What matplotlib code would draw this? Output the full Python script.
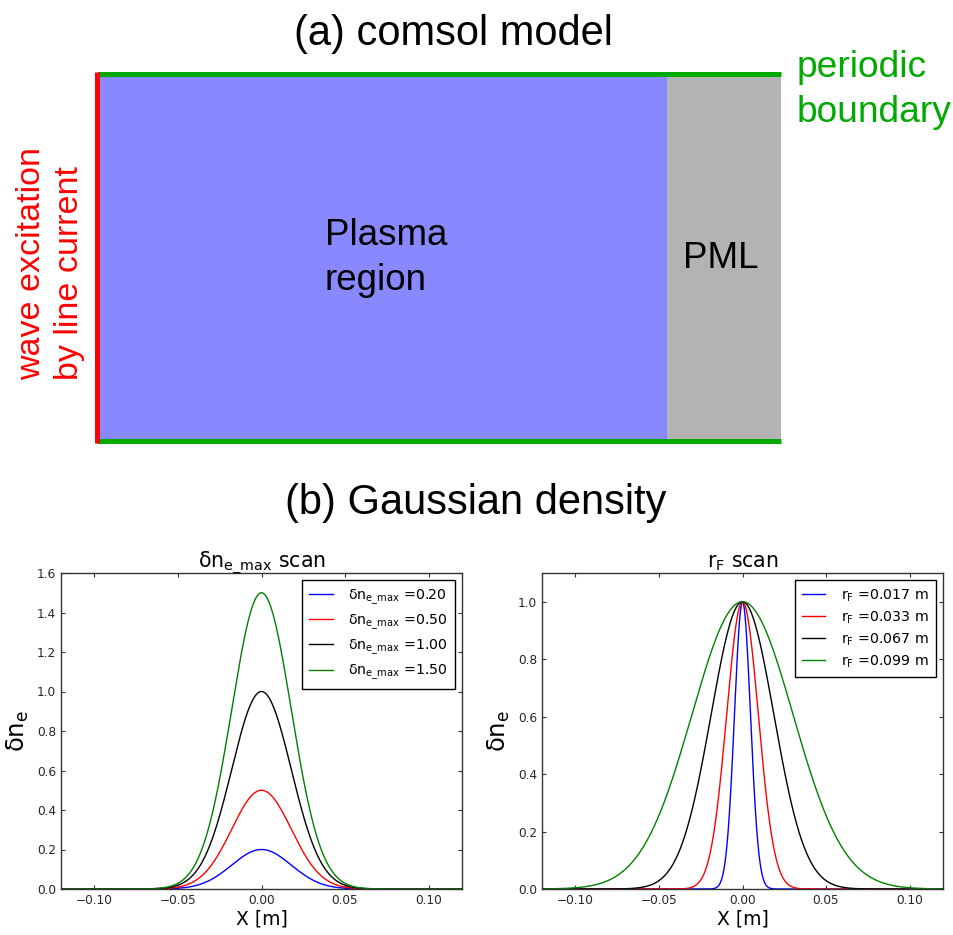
import numpy as np
import matplotlib.pyplot as plt
from matplotlib.patches import Rectangle

W, H = 954, 935

# (b) left panel: peak values, common gaussian width
amp_values = [0.20, 0.50, 1.00, 1.50]
amp_sigma = 0.0178

# (b) right panel: r_F values and the gaussian widths
rf_values = [0.017, 0.033, 0.067, 0.099]
rf_sigma = [0.0048, 0.0095, 0.0188, 0.0303]

line_colors = ['b', 'r', 'k', 'g']
x_ticks = [-0.10, -0.05, 0.00, 0.05, 0.10]
x_ticklabels = ['\u22120.10', '\u22120.05', '0.00', '0.05', '0.10']

plt.rcParams['mathtext.default'] = 'regular'
plt.rcParams['font.family'] = 'DejaVu Sans'

fig = plt.figure(figsize=(W / 100, H / 100), dpi=100)
fig.patch.set_facecolor('white')

# pixel canvas for the sketch of the comsol model
ax0 = fig.add_axes([0, 0, 1, 1])
ax0.set_xlim(0, W)
ax0.set_ylim(H, 0)
ax0.axis('off')

ax0.add_patch(Rectangle((99, 76), 568, 363, facecolor='#8888ff', edgecolor='none'))
ax0.add_patch(Rectangle((667, 76), 114, 363, facecolor='#b3b3b3', edgecolor='none'))
ax0.plot([97, 781], [74, 74], color='#00aa00', lw=3.6, solid_capstyle='butt')
ax0.plot([97, 781], [440.5, 440.5], color='#00aa00', lw=3.6, solid_capstyle='butt')
ax0.plot([97.5, 97.5], [72, 443], color='#ff0000', lw=3.6, solid_capstyle='butt')

sans = 'Liberation Sans'
ax0.text(453, 45, '(a) comsol model', fontsize=30, family=sans,
         ha='center', va='baseline')
ax0.text(476, 514, '(b) Gaussian density', fontsize=30, family=sans,
         ha='center', va='baseline')
ax0.text(325, 245, 'Plasma', fontsize=26.5, family=sans, ha='left', va='baseline')
ax0.text(325, 290.5, 'region', fontsize=26.5, family=sans, ha='left', va='baseline')
ax0.text(683, 268, 'PML', fontsize=26.5, family=sans, ha='left', va='baseline')
ax0.text(797, 77, 'periodic', fontsize=26.7, family=sans, color='#00aa00',
         ha='left', va='baseline')
ax0.text(797, 122, 'boundary', fontsize=26.7, family=sans, color='#00aa00',
         ha='left', va='baseline')
ax0.text(40, 380, 'wave excitation', fontsize=24.5, family=sans, color='#ff0000',
         rotation=90, rotation_mode='anchor', ha='left', va='baseline')
ax0.text(78, 380, 'by line current', fontsize=24.5, family=sans, color='#ff0000',
         rotation=90, rotation_mode='anchor', ha='left', va='baseline')


def style_axes(ax):
    ax.set_xlim(-0.12, 0.12)
    ax.set_xticks(x_ticks)
    ax.set_xticklabels(x_ticklabels)
    ax.tick_params(direction='in', top=True, right=True, length=3, width=0.8,
                   labelsize=8.7, labelcolor='#262626', pad=3.5, color='#333333')
    for sp in ax.spines.values():
        sp.set_color('#333333')
        sp.set_linewidth(1.0)
    ax.set_xlabel('X [m]', fontsize=13.5)
    ax.xaxis.set_label_coords(0.5, -0.066)
    ax.set_ylabel('δn$_e$', fontsize=17.5)
    ax.yaxis.set_label_coords(-0.076, 0.5)


xs = np.linspace(-0.12, 0.12, 1201)

ax1 = fig.add_axes([61 / W, 1 - 889 / H, 401 / W, 316 / H])
for amp, c in zip(amp_values, line_colors):
    ax1.plot(xs, amp * np.exp(-xs ** 2 / (2 * amp_sigma ** 2)), color=c, lw=1.0,
             label=r'δn$_{e\_max}$ =%.2f' % amp)
ax1.set_ylim(0, 1.6)
ax1.set_yticks(np.arange(0, 1.61, 0.2))
ax1.set_yticklabels(['%.1f' % v for v in np.arange(0, 1.61, 0.2)])
ax1.set_title(r'δn$_{e\_max}$ scan', fontsize=14.8, pad=4.3)
style_axes(ax1)

ax2 = fig.add_axes([542 / W, 1 - 889 / H, 401 / W, 316 / H])
for rf, sig, c in zip(rf_values, rf_sigma, line_colors):
    ax2.plot(xs, np.exp(-xs ** 2 / (2 * sig ** 2)), color=c, lw=1.0,
             label=r'r$_F$ =%.3f m' % rf)
ax2.set_ylim(0, 1.1)
ax2.set_yticks(np.arange(0, 1.01, 0.2))
ax2.set_yticklabels(['%.1f' % v for v in np.arange(0, 1.01, 0.2)])
ax2.set_title(r'r$_F$ scan', fontsize=14.8, pad=4.3)
style_axes(ax2)

for ax in (ax1, ax2):
    leg = ax.legend(loc='upper right', fontsize=10.2, fancybox=False, framealpha=1,
                    edgecolor='black', borderaxespad=0.5, labelspacing=0.4,
                    handlelength=1.65, handletextpad=1.1, borderpad=0.5)
    leg.get_frame().set_linewidth(1.0)

fig.savefig('out.png', dpi=100, facecolor='white')
